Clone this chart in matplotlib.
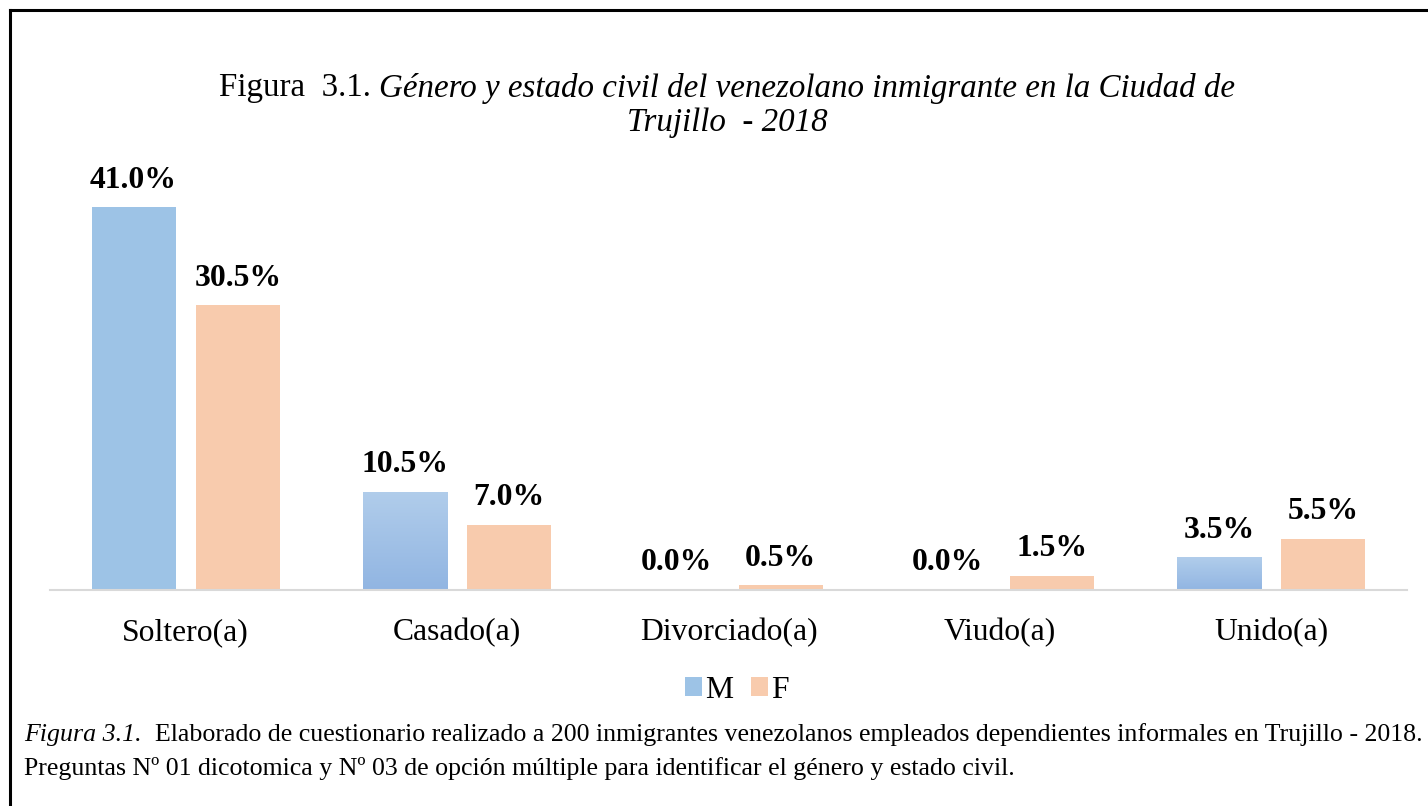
import matplotlib
matplotlib.use("Agg")
import matplotlib.pyplot as plt
import numpy as np
from matplotlib.lines import Line2D
from matplotlib.patches import Patch
from matplotlib.colors import LinearSegmentedColormap

categories = ["Soltero(a)", "Casado(a)", "Divorciado(a)", "Viudo(a)", "Unido(a)"]
series_names = ["M", "F"]
m_values = [41.0, 10.5, 0.0, 0.0, 3.5]
f_values = [30.5, 7.0, 0.5, 1.5, 5.5]

title_regular = "Figura  3.1. "
title_italic_1 = "Género y estado civil del venezolano inmigrante en la Ciudad de"
title_italic_2 = "Trujillo  - 2018"
caption_italic = "Figura 3.1."
caption_rest = "  Elaborado de cuestionario realizado a 200 inmigrantes venezolanos empleados dependientes informales en Trujillo - 2018."
caption_line2 = "Preguntas Nº 01 dicotomica y Nº 03 de opción múltiple para identificar el género y estado civil."

W, H = 1428, 806
DPI = 100
FONT = "Liberation Serif"
M_COLOR = "#9DC3E6"
M_TOP = "#B1CDEB"
M_BOT = "#91B5E2"
F_COLOR = "#F8CBAD"
gradient_bars = [1, 4]

plt.rcParams["font.family"] = [FONT, "DejaVu Serif"]

fig = plt.figure(figsize=(W / DPI, H / DPI), dpi=DPI)
fig.patch.set_facecolor("white")

ax = fig.add_axes([50 / W, 216 / H, 1357 / W, 411 / H])

x = np.arange(len(categories))
bw = 0.31
off = 0.192
bars_m = ax.bar(x - off, m_values, bw, color=M_COLOR, zorder=2)
bars_f = ax.bar(x + off, f_values, bw, color=F_COLOR, zorder=2)

# gradient fill on some M bars
grad = np.linspace(0, 1, 256).reshape(-1, 1)
cmap = LinearSegmentedColormap.from_list("g", [M_BOT, M_TOP])
for i in gradient_bars:
    b = bars_m[i]
    if b.get_height() <= 0:
        continue
    b.set_facecolor("none")
    x0, w_, h_ = b.get_x(), b.get_width(), b.get_height()
    im = ax.imshow(grad, cmap=cmap, extent=[x0, x0 + w_, 0, h_], origin="lower",
                   aspect="auto", zorder=2)
    im.set_clip_path(b)
ax.set_xlim(-0.5, 4.5)
ax.set_ylim(0, 44)

for bars in (bars_m, bars_f):
    for b in bars:
        v = b.get_height()
        ax.annotate(f"{v:.1f}%", (b.get_x() + b.get_width() / 2, v),
                    xytext=(0, 9), textcoords="offset points",
                    ha="center", va="bottom", fontsize=22.8, fontweight="bold",
                    color="black")

for s in ["top", "right", "left"]:
    ax.spines[s].set_visible(False)
ax.spines["bottom"].set_color("#D9D9D9")
ax.spines["bottom"].set_linewidth(1.5)
ax.set_yticks([])
ax.set_xticks(x)
ax.set_xticklabels(categories, fontsize=22.8)
ax.tick_params(axis="x", length=0, pad=20)

handles = [Patch(facecolor=M_COLOR, label=series_names[0]),
           Patch(facecolor=F_COLOR, label=series_names[1])]
fig.legend(handles=handles, loc="center", bbox_to_anchor=(737 / W, 1 - 690 / H),
           ncol=2, frameon=False, fontsize=22.8, handlelength=0.55, handleheight=0.55,
           handletextpad=0.1, columnspacing=0.55)

renderer = fig.canvas.get_renderer()


def width_of(t):
    return t.get_window_extent(renderer).width


def runs(xpix, ypix, parts, size, ha="left"):
    texts = []
    for s, style in parts:
        t = fig.text(0, 0, s, fontsize=size, style=style, va="center", ha="left",
                     transform=None)
        texts.append(t)
    widths = [width_of(t) for t in texts]
    total = sum(widths)
    start = xpix - total / 2 if ha == "center" else xpix
    cx = start
    for t, w in zip(texts, widths):
        t.set_position((cx, ypix))
        cx += w
    return total


def fit_size(parts, target, size0):
    tmp = [fig.text(0, 0, s, fontsize=size0, style=st, transform=None) for s, st in parts]
    tot = sum(width_of(t) for t in tmp)
    for t in tmp:
        t.remove()
    return size0 * target / tot


# title
tparts = [(title_regular, "normal"), (title_italic_1, "italic")]
tsize = fit_size(tparts, 1018, 20)
runs(727, H - 88, tparts, tsize, ha="center")
runs(727, H - 123, [(title_italic_2, "italic")], tsize, ha="center")

# caption
cparts = [(caption_italic, "italic"), (caption_rest, "normal")]
csize = fit_size(cparts, 1398, 18)
runs(24, H - 735, cparts, csize)
runs(24, H - 769, [(caption_line2, "normal")], csize)

# border
fig.add_artist(Line2D([9.5 / W, 9.5 / W], [0, 1 - 10 / H], color="black", lw=2.2,
                      transform=fig.transFigure))
fig.add_artist(Line2D([9.5 / W, 1], [1 - 10 / H, 1 - 10 / H], color="black", lw=2.2,
                      transform=fig.transFigure))

fig.savefig("out.png", dpi=DPI)
